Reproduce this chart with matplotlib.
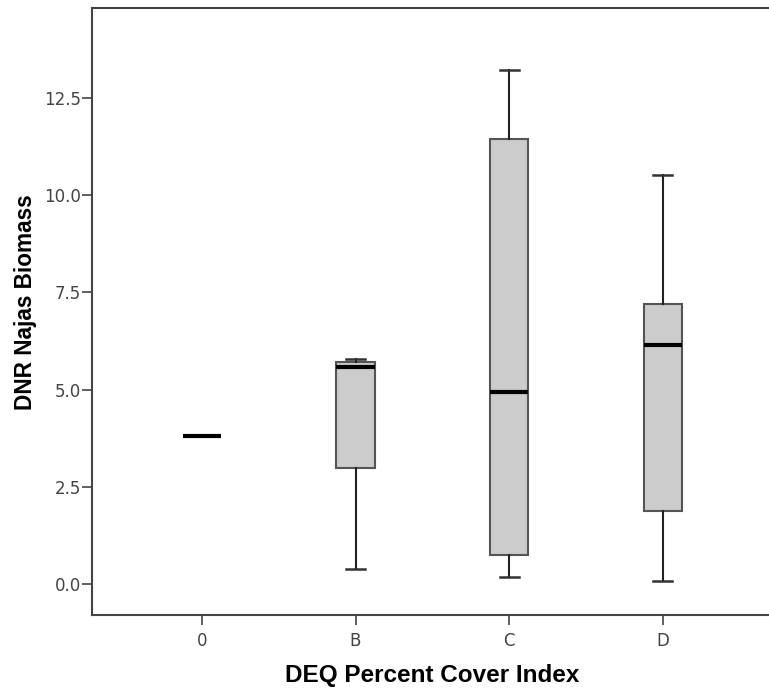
import numpy as np
import matplotlib.pyplot as plt

# box summary values
categories = ['0', 'B', 'C', 'D']
whis_lo = [3.81, 0.38, 0.17, 0.08]
q1 = [3.81, 2.99, 0.74, 1.87]
median = [3.81, 5.57, 4.93, 6.14]
q3 = [3.81, 5.70, 11.44, 7.21]
whis_hi = [3.81, 5.79, 13.22, 10.51]

yticks = [0.0, 2.5, 5.0, 7.5, 10.0, 12.5]

plt.rcParams['font.family'] = ['Liberation Sans', 'DejaVu Sans']

fig = plt.figure(figsize=(7.69, 6.88), dpi=100)
ax = fig.add_axes([0.1196, 0.1061, 0.886, 0.8823])

stats = []
for i, c in enumerate(categories):
    stats.append(dict(label=c, whislo=whis_lo[i], q1=q1[i], med=median[i],
                      q3=q3[i], whishi=whis_hi[i], fliers=[]))

edge = '#555555'
ax.bxp(stats, positions=np.arange(len(categories)), widths=0.25,
       patch_artist=True, showfliers=False,
       boxprops=dict(facecolor='#cccccc', edgecolor=edge, linewidth=1.5),
       whiskerprops=dict(color='#222222', linewidth=1.5),
       capprops=dict(color='#333333', linewidth=1.8),
       medianprops=dict(color='black', linewidth=3, solid_capstyle='butt'),
       capwidths=0.125)

ax.set_xlim(-0.716, 3.72)
ax.set_ylim(-0.80, 14.82)
ax.set_yticks(yticks)
ax.set_yticklabels(['%.1f' % v for v in yticks])
ax.set_xticks(np.arange(len(categories)))
ax.set_xticklabels(categories)

for s in ['left', 'bottom', 'top', 'right']:
    ax.spines[s].set_color('#444444')
    ax.spines[s].set_linewidth(1.5)

ax.tick_params(axis='both', colors='#444444', labelcolor='#444444',
               labelsize=12, length=7.5, width=1.2)
ax.tick_params(axis='x', pad=4.5)
ax.tick_params(axis='y', pad=0.5)
for lab in ax.get_xticklabels() + ax.get_yticklabels():
    lab.set_family('DejaVu Sans')

ax.set_xlabel('DEQ Percent Cover Index', fontsize=17.5, fontweight='bold', va='center')
ax.xaxis.set_label_coords(0.5, -0.099)
ax.set_ylabel('DNR Najas Biomass', fontsize=16.3, fontweight='bold')
ax.yaxis.set_label_coords(-0.08, 0.515)

fig.savefig('out.png', dpi=100)
